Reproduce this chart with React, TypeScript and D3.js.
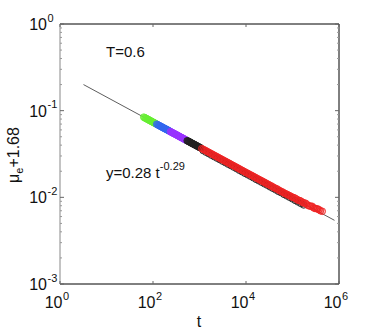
import React from "react";
import * as d3 from "d3";

const W = 374;
const H = 332;
const M = { left: 60, right: 339, top: 24, bottom: 284 };

const xTickExps = [0, 2, 4, 6];
const yTickExps = [-3, -2, -1, 0];

// fit line endpoints (y = 0.28 t^-0.29)
const fitT = [3.2, 800000];
const fitY = [0.2, 0.00543];

const greenT = [63, 66.1, 68.4, 70.8, 73.3, 75.9, 78.6, 81.3, 84.1, 87.1, 90.2, 93.3, 96.6, 100, 103.5, 107, 110.9, 114.8];
const greenY = [0.0842, 0.0831, 0.0822, 0.0814, 0.0806, 0.0798, 0.079, 0.0782, 0.0774, 0.0767, 0.0759, 0.0751, 0.0744, 0.0736, 0.0729, 0.0722, 0.0715, 0.0708];

const blueT = [120, 125, 131.8, 136, 141, 146, 151.4, 157, 162, 168, 173.8, 180, 186, 193, 199.5, 207, 214, 221, 229.1];
const blueY = [0.0698, 0.0689, 0.068, 0.0673, 0.0666, 0.0659, 0.0653, 0.0646, 0.064, 0.0633, 0.0627, 0.0621, 0.0615, 0.0609, 0.0603, 0.0597, 0.0591, 0.0585, 0.0579];

const purpleT = [237, 246, 254, 263, 272, 282, 292, 302, 313, 324, 335, 347, 359, 372, 385, 398, 412, 427, 442, 457, 473, 490, 507, 525];
const purpleY = [0.0573, 0.0567, 0.0561, 0.0556, 0.055, 0.0545, 0.054, 0.0535, 0.0529, 0.0524, 0.0519, 0.0514, 0.0508, 0.0503, 0.0498, 0.0493, 0.0489, 0.0484, 0.0479, 0.0474, 0.0469, 0.0464, 0.046, 0.0455];

const blackT = [543, 562, 582, 603, 624, 646, 669, 692, 716, 741, 767, 794, 822, 851, 881, 912, 944, 977, 1011, 1047];
const blackY = [0.045, 0.0446, 0.0442, 0.0438, 0.0433, 0.0429, 0.0424, 0.042, 0.0416, 0.0412, 0.0408, 0.0404, 0.04, 0.0396, 0.0392, 0.0388, 0.0384, 0.038, 0.0377, 0.0373];

// black points hidden beneath the red band
const blackUnderT = [1202, 1380, 1585, 1820, 2089, 2399, 2754, 3162, 3631, 4169, 4786, 5495, 6310, 7244, 8318, 9550, 10965, 12589, 14454, 16596, 19055, 21878, 25119, 28840, 33113, 38019, 43652, 50119, 57544, 66069, 75858, 87096, 100000, 114815, 131826, 151356, 173780];
const blackUnderY = [0.0346, 0.0332, 0.0319, 0.0306, 0.0294, 0.0283, 0.0272, 0.0261, 0.0251, 0.0241, 0.0232, 0.0223, 0.0214, 0.0205, 0.0197, 0.0189, 0.0182, 0.0175, 0.0168, 0.0161, 0.0155, 0.0149, 0.0143, 0.0138, 0.0132, 0.0127, 0.0122, 0.0117, 0.0113, 0.0108, 0.0104, 0.01, 0.0096, 0.0092, 0.00885, 0.0085, 0.00817];

const redT = [1120, 1202, 1288, 1380, 1479, 1585, 1698, 1820, 1950, 2089, 2239, 2399, 2570, 2754, 2951, 3162, 3388, 3631, 3890, 4169, 4467, 4786, 5129, 5495, 5888, 6310, 6761, 7244, 7762, 8318, 8913, 9550, 10233, 10965, 11749, 12589, 13490, 14454, 15488, 16596, 17783, 19055, 20417, 21878, 23442, 25119, 26915, 28840, 30903, 33113, 35481, 38019, 40738, 43652, 46774, 50119, 53703, 57544, 61660, 66069, 70795, 75858, 81283, 87096, 93325, 100000, 107152, 114815, 123027, 131826, 141254, 151356, 162181, 173780, 186209, 199526, 213796, 229087, 245471, 263027, 281838, 301995, 323594, 346737, 371535, 398107, 436516];
const redY = [0.0365, 0.03581, 0.0351, 0.0344, 0.0337, 0.03305, 0.0324, 0.03175, 0.0311, 0.0305, 0.0299, 0.02931, 0.0287, 0.02816, 0.0276, 0.02705, 0.0265, 0.02599, 0.0255, 0.02497, 0.0245, 0.02399, 0.0235, 0.02305, 0.0226, 0.02214, 0.0217, 0.02127, 0.0208, 0.02044, 0.02, 0.01963, 0.0192, 0.01886, 0.0185, 0.01812, 0.0178, 0.01741, 0.0171, 0.01673, 0.0164, 0.01607, 0.0158, 0.01544, 0.0152, 0.01483, 0.0146, 0.01425, 0.014, 0.01369, 0.0135, 0.01315, 0.0129, 0.01264, 0.0125, 0.01214, 0.0119, 0.01166, 0.0115, 0.0112, 0.011, 0.01085, 0.0106, 0.01045, 0.0102, 0.01005, 0.0099, 0.00975, 0.0095, 0.00925, 0.0092, 0.00905, 0.0088, 0.0086, 0.0086, 0.0084, 0.0081, 0.00795, 0.0079, 0.0079, 0.0076, 0.00745, 0.0074, 0.00735, 0.0072, 0.007, 0.0069];

const series = [
  { t: blackUnderT, y: blackUnderY, color: "#222222" },
  { t: greenT, y: greenY, color: "#66ee33" },
  { t: blueT, y: blueY, color: "#3366ee" },
  { t: purpleT, y: purpleY, color: "#9933ff" },
  { t: blackT, y: blackY, color: "#222222" },
  { t: redT, y: redY, color: "#ee2222" },
];

export default function App() {
  const x = d3.scaleLog().domain([1, 1e6]).range([M.left, M.right]);
  const y = d3.scaleLog().domain([1e-3, 1]).range([M.bottom, M.top]);
  const font = "'Liberation Sans', Arial, Helvetica, sans-serif";

  const yMinor: number[] = [];
  for (let e = -3; e < 0; e++) {
    for (let k = 2; k <= 9; k++) yMinor.push(k * Math.pow(10, e));
  }
  const line = d3
    .line<number>()
    .x((_, i) => x(fitT[i]))
    .y((_, i) => y(fitY[i]));

  return (
    <svg
      width={W}
      height={H}
      style={{ position: "absolute", left: 0, top: 0, background: "#fff" }}
      fontFamily={font}
    >
      <rect x={0} y={0} width={W} height={H} fill="#fff" />
      {/* frame */}
      <line x1={M.left} x2={M.right} y1={M.top} y2={M.top} stroke="#000" strokeWidth={1} />
      <line x1={M.right} x2={M.right} y1={M.top} y2={M.bottom} stroke="#000" strokeWidth={1} />
      <line x1={M.left} x2={M.right} y1={M.bottom} y2={M.bottom} stroke="#000" strokeWidth={1} />
      <line x1={M.left} x2={M.left} y1={M.top} y2={M.bottom} stroke="#888" strokeWidth={1} />

      {/* y ticks */}
      {yMinor.map((v, i) => (
        <g key={"ym" + i} stroke="#999" strokeWidth={1}>
          <line x1={M.left} x2={M.left + 2} y1={y(v)} y2={y(v)} />
          <line x1={M.right} x2={M.right - 2} y1={y(v)} y2={y(v)} />
        </g>
      ))}
      {yTickExps.map((e) => (
        <g key={"yt" + e} stroke="#666" strokeWidth={1}>
          <line x1={M.left} x2={M.left + 4} y1={y(Math.pow(10, e))} y2={y(Math.pow(10, e))} />
          <line x1={M.right} x2={M.right - 4} y1={y(Math.pow(10, e))} y2={y(Math.pow(10, e))} />
        </g>
      ))}
      {xTickExps.map((e) => (
        <g key={"xt" + e} stroke="#666" strokeWidth={1}>
          <line x1={x(Math.pow(10, e))} x2={x(Math.pow(10, e))} y1={M.bottom} y2={M.bottom - 3} />
          <line x1={x(Math.pow(10, e))} x2={x(Math.pow(10, e))} y1={M.top} y2={M.top + 3} />
        </g>
      ))}

      {/* tick labels */}
      {yTickExps.map((e) => (
        <g key={"yl" + e} fill="#111">
          <text x={47} y={y(Math.pow(10, e)) + 6} fontSize={16} textAnchor="end">10</text>
          <text x={47.5} y={y(Math.pow(10, e)) - 2.5} fontSize={11}>{e === 0 ? "0" : "-" + Math.abs(e)}</text>
        </g>
      ))}
      {xTickExps.map((e) => (
        <g key={"xl" + e} fill="#111">
          <text x={x(Math.pow(10, e)) + 2.5} y={308} fontSize={16} textAnchor="end">10</text>
          <text x={x(Math.pow(10, e)) + 3} y={299.5} fontSize={11}>{String(e)}</text>
        </g>
      ))}

      {/* fit line */}
      <path d={line([0, 1]) || ""} stroke="#333" strokeWidth={0.8} fill="none" />

      {/* markers */}
      {series.map((s, si) =>
        s.t.map((tv, i) => (
          <circle
            key={si + "-" + i}
            cx={x(tv)}
            cy={y(s.y[i])}
            r={3.3}
            fill={s.color}
            fillOpacity={0.3}
            stroke={s.color}
            strokeWidth={1}
            strokeOpacity={0.85}
          />
        ))
      )}

      {/* annotations */}
      <text x={106} y={57} fontSize={15} fill="#111">T=0.6</text>
      <text x={106} y={178} fontSize={15} fill="#111">
        y=0.28 t
        <tspan dy={-8} fontSize={11}>-0.29</tspan>
      </text>

      {/* axis labels */}
      <text x={199} y={327} fontSize={16} textAnchor="middle" fill="#111">t</text>
      <text transform="translate(19,155) rotate(-90)" fontSize={16} textAnchor="middle" fill="#111">
        μ
        <tspan dy={4} fontSize={11}>e</tspan>
        <tspan dy={-4}>+1.68</tspan>
      </text>
    </svg>
  );
}
